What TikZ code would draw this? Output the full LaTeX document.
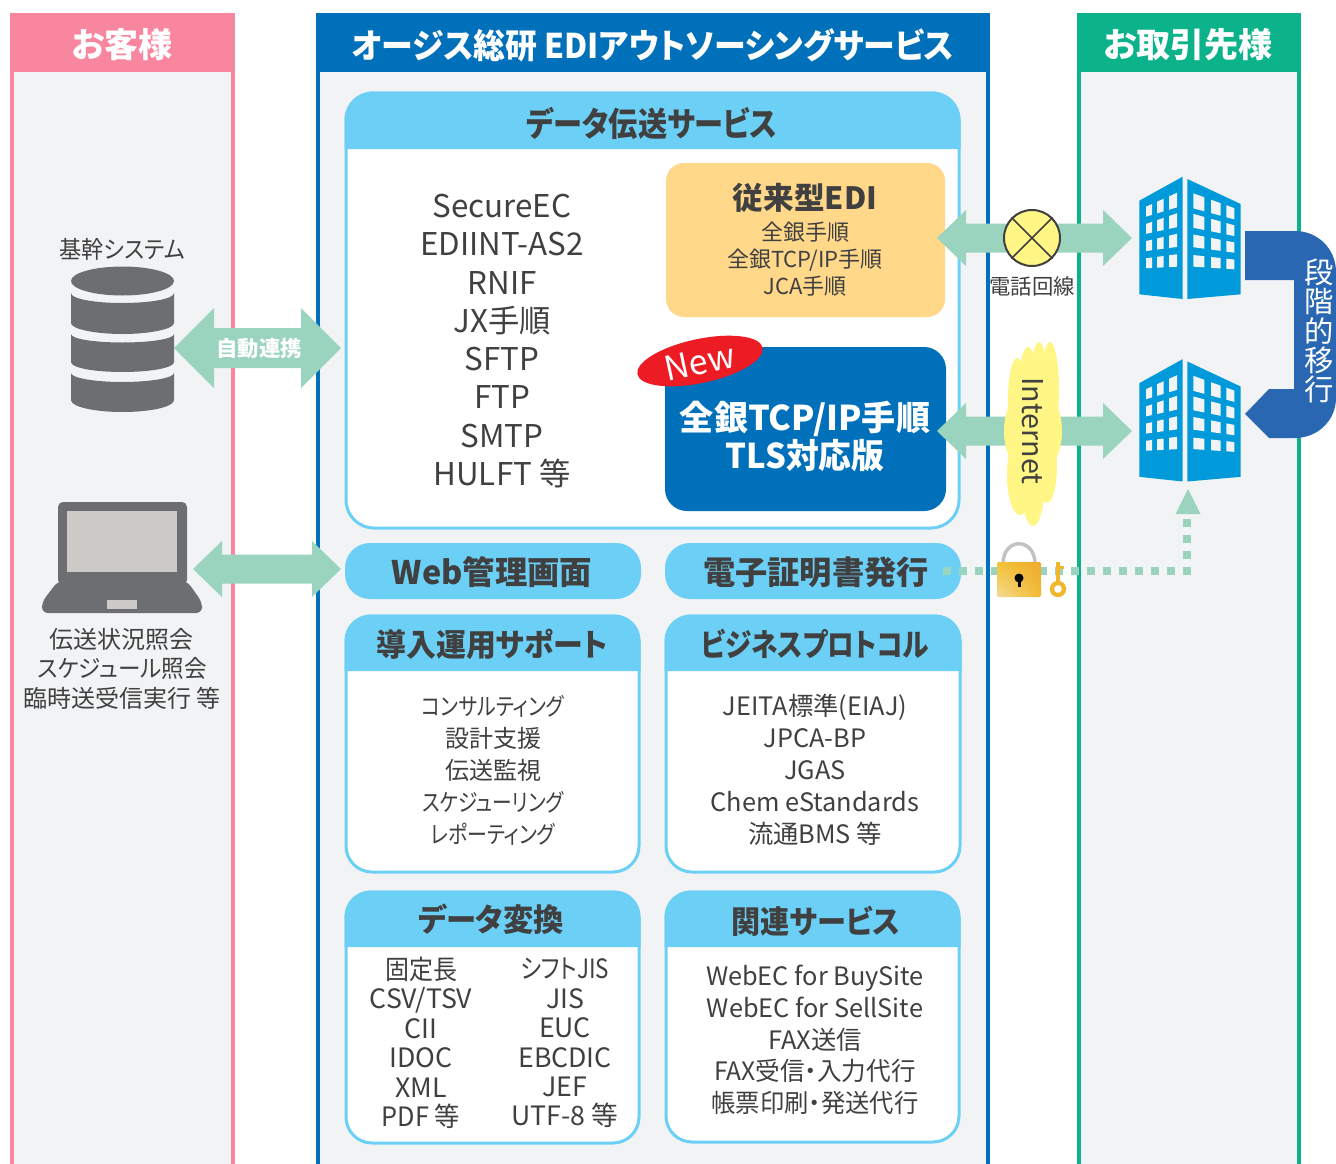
\documentclass[tikz,border=0pt]{standalone}
\usepackage{fontspec}
\usepackage{graphicx}
\usetikzlibrary{calc,shadings}
\setmainfont{Noto Sans CJK JP}[RawFeature=+palt]
\definecolor{pinkc}{HTML}{F7869E}
\definecolor{bluec}{HTML}{0070BA}
\definecolor{greenc}{HTML}{0BB28A}
\definecolor{bgc}{HTML}{F1F3F5}
\definecolor{skyc}{HTML}{6CCFF6}
\definecolor{orangec}{HTML}{FFD88A}
\definecolor{redc}{HTML}{ED1C24}
\definecolor{arrowc}{HTML}{9BD4BE}
\definecolor{yelc}{HTML}{FFF685}
\definecolor{bldc}{HTML}{0099DA}
\definecolor{stepc}{HTML}{2A67B2}
\definecolor{grayc}{HTML}{6D6E71}
\definecolor{screenc}{HTML}{CCC9C7}
\definecolor{txtc}{HTML}{404040}
\definecolor{goldc}{HTML}{F0B72D}
\definecolor{golda}{HTML}{F3DA96}
\definecolor{goldb}{HTML}{EFA92F}
\definecolor{goldd}{HTML}{F3C233}
\definecolor{golde}{HTML}{F2BC2E}
\newcommand\kn[2]{\scalebox{#1}[1]{#2}}
\tikzset{
  lbl/.style={text=txtc,align=center,inner sep=0pt},
  hdr/.style={text=white,align=center,inner sep=0pt,font=\bfseries\fontsize{25.5}{30}\selectfont},
  phead/.style={text=txtc,align=center,inner sep=0pt,font=\bfseries\fontsize{23.5}{28}\selectfont},
}
\newcommand\panelbox[6]{% x0 y0 x1 yh y1 r
  \draw[skyc,line width=2.25pt,fill=white,rounded corners=#6*.75pt] (#1,#2) rectangle (#3,#5);
  \fill[skyc] (#1-1.5,#4) [rounded corners=#6*.75pt] -- (#1-1.5,#2-1.5) -- (#3+1.5,#2-1.5) [sharp corners] -- (#3+1.5,#4) -- cycle;
}
\newcommand\blockarrow[5]{% from to shaft-half head-half head-len (px)
  \fill[arrowc] let \p1=(#1),\p2=(#2),\n1={#3*.75pt},\n2={#4*.75pt},\n3={#5*.75pt} in
   (\x1,\y1) -- (\x1+\n3,\y1+\n2) -- (\x1+\n3,\y1+\n1) -- (\x2-\n3,\y1+\n1) -- (\x2-\n3,\y1+\n2)
   -- (\x2,\y2) -- (\x2-\n3,\y1-\n2) -- (\x2-\n3,\y1-\n1) -- (\x1+\n3,\y1-\n1) -- (\x1+\n3,\y1-\n2) -- cycle;
}
\newcommand\building[1]{%
  \begin{scope}[shift={(930,#1)},x=.25pt,y=-.25pt]
    \fill[bldc] (628,92) -- (758,20) -- (758,387) -- (628,373) -- cycle;
    \fill[bldc] (772,27) -- (932,102) -- (932,373) -- (772,387) -- cycle;
    \foreach \r in {0,1,2,3}{
      \foreach \xa/\xb in {648/666,681/701,717/741}{
        \fill[bgc] (\xa,{110+51.6*\r+(-0.45+0.107*\r)*(\xa-648)})
          -- (\xb,{110+51.6*\r+(-0.45+0.107*\r)*(\xb-648)})
          -- (\xb,{140+51.6*\r+(-0.3+0.083*\r)*(\xb-648)})
          -- (\xa,{140+51.6*\r+(-0.3+0.083*\r)*(\xa-648)}) -- cycle;
      }
      \foreach \xa/\xb in {790/823,843/872,889/913}{
        \fill[bgc] (\xa,{70+61.7*\r+(0.36-0.083*\r)*(\xa-790)})
          -- (\xb,{70+61.7*\r+(0.36-0.083*\r)*(\xb-790)})
          -- (\xb,{115+58.3*\r+(0.27-0.068*\r)*(\xb-790)})
          -- (\xa,{115+58.3*\r+(0.27-0.068*\r)*(\xa-790)}) -- cycle;
      }
    }
  \end{scope}
}
\begin{document}
\begin{tikzpicture}[x=.75pt,y=-.75pt]
\useasboundingbox (0,0) rectangle (1336,1164);
\fill[white] (0,0) rectangle (1336,1164);
% columns
\fill[bgc] (12,60) rectangle (232,1164);
\fill[bgc] (318,60) rectangle (988,1164);
\fill[bgc] (1078,60) rectangle (1299,1164);
\draw[pinkc,line width=3pt] (12,60) -- (12,1164) (232.5,60) -- (232.5,1164);
\draw[bluec,line width=3pt] (318,60) -- (318,1164) (988,60) -- (988,1164);
\draw[greenc,line width=3pt] (1078.5,60) -- (1078.5,1164) (1299,60) -- (1299,1164);
\fill[pinkc] (10,13) rectangle (234.5,72);
\fill[bluec] (316,13) rectangle (990,72);
\fill[greenc] (1076.5,13) rectangle (1301,72);
\node[hdr] (hcust) at (122,45) {お客様};
\node[hdr] (hmain) at (653,45) {\kn{.9375}{オージス総研 EDIアウトソーシングサービス}};
\node[hdr] (hpart) at (1188,45) {お取引先様};
% panels
\panelbox{346}{93}{959}{149}{528}{28}
\panelbox{346}{616}{639}{671}{872}{26}
\panelbox{666}{616}{960}{671}{872}{26}
\panelbox{346}{892}{639}{947}{1143}{26}
\panelbox{666}{892}{959}{947}{1142}{26}
\fill[skyc,rounded corners=25*.75pt] (345,543) rectangle (641,599);
\fill[skyc,rounded corners=25*.75pt] (665,543) rectangle (961,599);
\node[phead,font=\bfseries\fontsize{25}{30}\selectfont] (pdata) at (652,123) {\kn{.874}{データ伝送サービス}};
\node[phead,font=\bfseries\fontsize{24.3}{30}\selectfont] (pweb) at (492,572) {Web管理画面};
\node[phead,font=\bfseries\fontsize{24.2}{30}\selectfont] (pcert) at (816,572) {電子証明書発行};
\node[phead] (pintro) at (492,644) {\kn{.954}{導入運用サポート}};
\node[phead] (pbiz) at (815,644) {\kn{.85}{ビジネスプロトコル}};
\node[phead] (pconv) at (491,919) {\kn{.967}{データ変換}};
\node[phead] (prel) at (816,921) {\kn{.93}{関連サービス}};
% protocol list
\node[lbl,font=\fontsize{23.5}{28.7}\selectfont] (plist) at (502,341) {SecureEC\\EDIINT-AS2\\RNIF\\JX手順\\SFTP\\FTP\\SMTP\\HULFT 等};
% conventional EDI
\fill[orangec,rounded corners=18*.75pt] (666,163) rectangle (945,317);
\node[lbl,font=\bfseries\fontsize{23}{27}\selectfont] (ctitle) at (805,197.5) {従来型EDI};
\node[lbl,font=\fontsize{16.5}{20.25}\selectfont] (clist) at (805,259.5) {全銀手順\\全銀TCP/IP手順\\JCA手順};
% new box
\fill[bluec,rounded corners=22*.75pt] (665,347) rectangle (946,511);
\node[hdr,font=\bfseries\fontsize{25.6}{29}\selectfont] (ntitle) at (805,436.5) {全銀TCP/IP手順\\\kn{.96}{TLS対応版}};
\fill[redc,rotate around={12:(700,361)}] (700,361) ellipse [x radius=64,y radius=22];
\node[text=white,inner sep=0pt,rotate=12,font=\fontsize{25.5}{30}\selectfont] (newl) at (700,362) {New};
% lists
\node[lbl,font=\fontsize{18}{24}\selectfont] (lintro) at (493,770) {\kn{.83}{コンサルティング}\\設計支援\\伝送監視\\\kn{.82}{スケジューリング}\\\kn{.83}{レポーティング}};
\node[lbl,font=\fontsize{19}{24}\selectfont] (lbiz) at (815,770) {JEITA標準(EIAJ)\\JPCA-BP\\JGAS\\Chem eStandards\\流通BMS 等};
\node[lbl,font=\fontsize{20}{22.1}\selectfont] (lconva) at (421,1043) {\kn{.9}{固定長}\\CSV/TSV\\CII\\IDOC\\XML\\\kn{.95}{PDF 等}};
\node[lbl,font=\fontsize{20}{22.1}\selectfont] (lconvb) at (565,1043) {\kn{.84}{シフトJIS}\\JIS\\EUC\\EBCDIC\\JEF\\UTF-8 等};
\node[lbl,font=\fontsize{19}{23.8}\selectfont] (lrel) at (815,1040) {WebEC for BuySite\\WebEC for SellSite\\FAX送信\\\kn{.97}{FAX受信・入力代行}\\\kn{.96}{帳票印刷・発送代行}};
% left column
\node[lbl,font=\fontsize{18}{22}\selectfont] (lsys) at (122,249) {\kn{.925}{基幹システム}};
\node[lbl,font=\fontsize{18}{22.1}\selectfont] (lpc) at (122,668.5) {伝送状況照会\\\kn{.94}{スケジュール照会}\\臨時送受信実行 等};
% database icon
\fill[grayc] (122.5,281) ellipse [x radius=51.5,y radius=14.5];
\fill[grayc] (71,293) .. controls (71,299) and (95,303) .. (122.5,303) .. controls (150,303) and (174,299) .. (174,293)
  -- (174,323) .. controls (174,329) and (150,334) .. (122.5,334) .. controls (95,334) and (71,329) .. (71,323) -- cycle;
\fill[grayc] (71,334) .. controls (71,339) and (95,342.5) .. (122.5,342.5) .. controls (150,342.5) and (174,339) .. (174,334)
  -- (174,362) .. controls (174,368) and (150,372) .. (122.5,372) .. controls (95,372) and (71,368) .. (71,362) -- cycle;
\fill[grayc] (71,373) .. controls (71,378) and (95,382) .. (122.5,382) .. controls (150,382) and (174,378) .. (174,373)
  -- (174,400) .. controls (174,407) and (150,412) .. (122.5,412) .. controls (95,412) and (71,407) .. (71,400) -- cycle;
% laptop icon
\fill[grayc,rounded corners=5*.75pt] (58,585) -- (58,502) -- (187,502) -- (187,585) -- cycle;
\fill[grayc,rounded corners=6*.75pt] (58,581) -- (187,581) -- (202,602) -- (202,613) -- (42,613) -- (42,602) -- cycle;
\fill[screenc] (67,511) rectangle (177,572);
\fill[screenc] (107,600) rectangle (137,609);
% building icons
\building{170}
\building{352.5}
% block arrows
\coordinate (dbR) at (174,348);
\coordinate (mainL) at (341,348);
\coordinate (pcR) at (193,569);
\coordinate (webL) at (341,569);
\coordinate (ediR) at (937,238);
\coordinate (bldA) at (1132,238);
\coordinate (newR) at (937,431);
\coordinate (bldB) at (1132,431);
\blockarrow{dbR}{mainL}{20}{40}{40}
\blockarrow{pcR}{webL}{14.5}{28}{29}
\blockarrow{ediR}{bldA}{14.5}{28}{29}
\blockarrow{newR}{bldB}{14.5}{28}{29}
\node[text=white,inner sep=0pt,font=\bfseries\fontsize{16}{18}\selectfont] (lauto) at (259,348) {自動連携};
% telephone
\node[circle,draw=txtc,line width=1.5pt,fill=yelc,minimum size=56*.75pt,inner sep=0pt] (tel) at (1032,238) {};
\draw[txtc,line width=1.2pt] (tel.north west) -- (tel.south east) (tel.north east) -- (tel.south west);
\node[lbl,font=\fontsize{16}{18}\selectfont] (ltel) at (1032,286) {電話回線};
% internet cloud
\fill[yelc] (1033,431) ellipse [x radius=29,y radius=45];
\fill[yelc] (1033,410) ellipse [x radius=24,y radius=46];
\fill[yelc] (1017,400) ellipse [x radius=9,y radius=42];
\fill[yelc] (1028,395) ellipse [x radius=10,y radius=48];
\fill[yelc] (1039,390) ellipse [x radius=9,y radius=48];
\fill[yelc] (1050,390) ellipse [x radius=9,y radius=48];
\fill[yelc] (1020,475) ellipse [x radius=13,y radius=40];
\fill[yelc] (1033,480) ellipse [x radius=12,y radius=46];
\fill[yelc] (1047,465) ellipse [x radius=10,y radius=38];
\node[text=txtc,inner sep=0pt,rotate=-90,font=\fontsize{21.5}{24}\selectfont] (lnet) at (1033,431) {Internet};
% stepwise migration arrow
\fill[stepc] (1245,231) -- (1295,231) .. controls (1318,231) and (1336,249) .. (1336,272)
  -- (1336,398) .. controls (1336,420) and (1318,438) .. (1295,438)
  -- (1269,438) -- (1245,414) -- (1269,389) -- (1294,389) -- (1294,280) -- (1245,280) -- cycle;
\node[text=white,align=center,inner sep=0pt,font=\fontsize{22}{21.9}\selectfont] (lstep) at (1319,331) {段\\階\\的\\移\\行};
% dotted connector
\coordinate (certE) at (943,571);
\coordinate (turn) at (1187,571);
\coordinate (tipbase) at (1188,514);
\coordinate (tip) at (1188,489);
\draw[arrowc,line width=6pt,dash pattern=on 6pt off 6pt] (certE) -- (turn) -- (1187,519);
\fill[arrowc] (tip) -- ($(tipbase)+(12.5,0)$) -- ($(tipbase)+(-12.5,0)$) -- cycle;
% lock and key
\draw[screenc!90!gray,line width=2.6pt] (1003,564) .. controls (1003,537) and (1035,537) .. (1035,564);
\shade[rounded corners=1pt,lower left=golda,upper right=goldb,upper left=goldd,lower right=golde] (997,562) rectangle (1041,597);
\fill[black] (1019,578) circle [radius=4.5];
\fill[black] (1017.5,578) rectangle (1020.5,587);
\draw[goldc,line width=3.2pt] (1058,589) circle [radius=6];
\fill[goldc] (1056,562) rectangle (1060,583);
\fill[goldc] (1056,566) rectangle (1064,569);
\end{tikzpicture}
\end{document}
